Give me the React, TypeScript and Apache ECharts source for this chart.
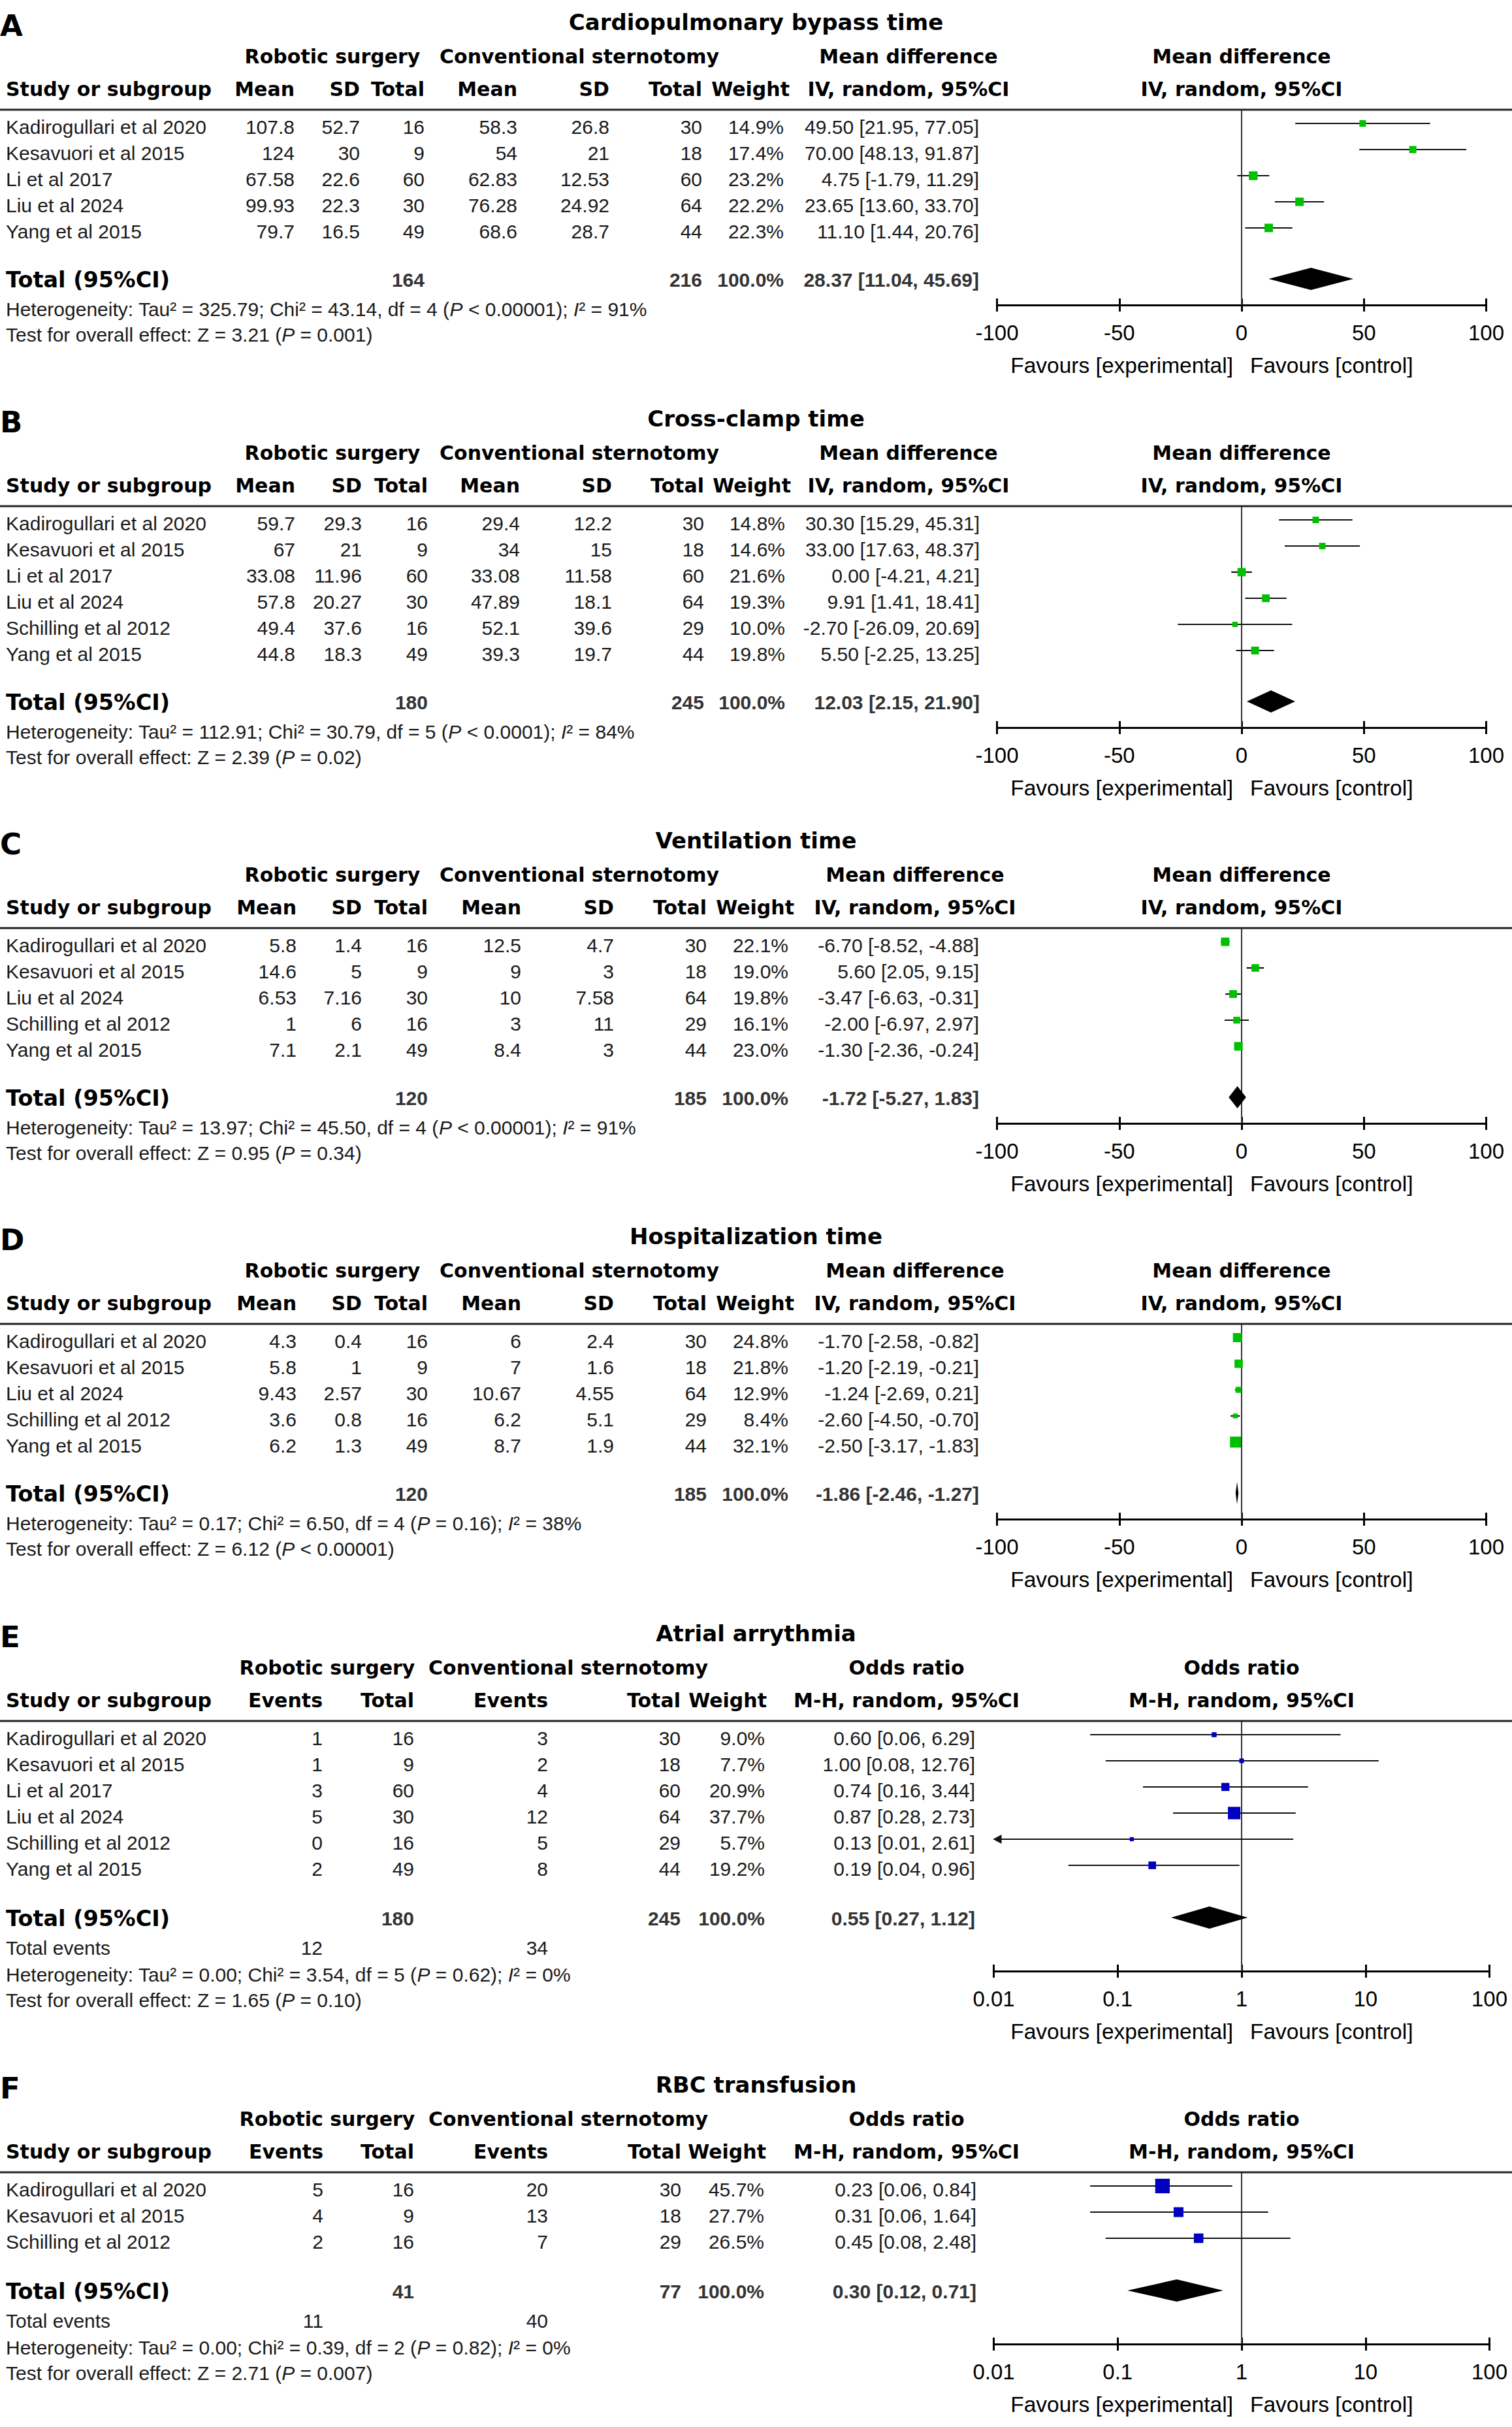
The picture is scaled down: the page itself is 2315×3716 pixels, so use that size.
import React, { useEffect, useRef } from "react";
import * as echarts from "echarts";

/* ================= DATA ================= */
const panelLetters = ["A", "B", "C", "D", "E", "F"];
const panelTitles = [
  "Cardiopulmonary bypass time",
  "Cross-clamp time",
  "Ventilation time",
  "Hospitalization time",
  "Atrial arrythmia",
  "RBC transfusion",
];
const hetTau2 = [325.79, 112.91, 13.97, 0.17, 0.0, 0.0];
const hetChi2 = [43.14, 30.79, 45.5, 6.5, 3.54, 0.39];
const hetDf = [4, 5, 4, 4, 5, 2];
const hetP = ["< 0.00001", "< 0.0001", "< 0.00001", "= 0.16", "= 0.62", "= 0.82"];
const hetI2 = [91, 84, 91, 38, 0, 0];
const overallZ = [3.21, 2.39, 0.95, 6.12, 1.65, 2.71];
const overallP = ["= 0.001", "= 0.02", "= 0.34", "< 0.00001", "= 0.10", "= 0.007"];

// A: Cardiopulmonary bypass time (mean difference)
const cpbStudy = ["Kadirogullari et al 2020", "Kesavuori et al 2015", "Li et al 2017", "Liu et al 2024", "Yang et al 2015"];
const cpbRoboMean = [107.8, 124, 67.58, 99.93, 79.7];
const cpbRoboSD = [52.7, 30, 22.6, 22.3, 16.5];
const cpbRoboN = [16, 9, 60, 30, 49];
const cpbConvMean = [58.3, 54, 62.83, 76.28, 68.6];
const cpbConvSD = [26.8, 21, 12.53, 24.92, 28.7];
const cpbConvN = [30, 18, 60, 64, 44];
const cpbWeight = [14.9, 17.4, 23.2, 22.2, 22.3];
const cpbMD = [49.5, 70.0, 4.75, 23.65, 11.1];
const cpbLo = [21.95, 48.13, -1.79, 13.6, 1.44];
const cpbHi = [77.05, 91.87, 11.29, 33.7, 20.76];
const cpbTotals = [164, 216];
const cpbPooled = [28.37, 11.04, 45.69];

// B: Cross-clamp time
const cctStudy = ["Kadirogullari et al 2020", "Kesavuori et al 2015", "Li et al 2017", "Liu et al 2024", "Schilling et al 2012", "Yang et al 2015"];
const cctRoboMean = [59.7, 67, 33.08, 57.8, 49.4, 44.8];
const cctRoboSD = [29.3, 21, 11.96, 20.27, 37.6, 18.3];
const cctRoboN = [16, 9, 60, 30, 16, 49];
const cctConvMean = [29.4, 34, 33.08, 47.89, 52.1, 39.3];
const cctConvSD = [12.2, 15, 11.58, 18.1, 39.6, 19.7];
const cctConvN = [30, 18, 60, 64, 29, 44];
const cctWeight = [14.8, 14.6, 21.6, 19.3, 10.0, 19.8];
const cctMD = [30.3, 33.0, 0.0, 9.91, -2.7, 5.5];
const cctLo = [15.29, 17.63, -4.21, 1.41, -26.09, -2.25];
const cctHi = [45.31, 48.37, 4.21, 18.41, 20.69, 13.25];
const cctTotals = [180, 245];
const cctPooled = [12.03, 2.15, 21.9];

// C: Ventilation time
const ventStudy = ["Kadirogullari et al 2020", "Kesavuori et al 2015", "Liu et al 2024", "Schilling et al 2012", "Yang et al 2015"];
const ventRoboMean = [5.8, 14.6, 6.53, 1, 7.1];
const ventRoboSD = [1.4, 5, 7.16, 6, 2.1];
const ventRoboN = [16, 9, 30, 16, 49];
const ventConvMean = [12.5, 9, 10, 3, 8.4];
const ventConvSD = [4.7, 3, 7.58, 11, 3];
const ventConvN = [30, 18, 64, 29, 44];
const ventWeight = [22.1, 19.0, 19.8, 16.1, 23.0];
const ventMD = [-6.7, 5.6, -3.47, -2.0, -1.3];
const ventLo = [-8.52, 2.05, -6.63, -6.97, -2.36];
const ventHi = [-4.88, 9.15, -0.31, 2.97, -0.24];
const ventTotals = [120, 185];
const ventPooled = [-1.72, -5.27, 1.83];

// D: Hospitalization time
const hospStudy = ["Kadirogullari et al 2020", "Kesavuori et al 2015", "Liu et al 2024", "Schilling et al 2012", "Yang et al 2015"];
const hospRoboMean = [4.3, 5.8, 9.43, 3.6, 6.2];
const hospRoboSD = [0.4, 1, 2.57, 0.8, 1.3];
const hospRoboN = [16, 9, 30, 16, 49];
const hospConvMean = [6, 7, 10.67, 6.2, 8.7];
const hospConvSD = [2.4, 1.6, 4.55, 5.1, 1.9];
const hospConvN = [30, 18, 64, 29, 44];
const hospWeight = [24.8, 21.8, 12.9, 8.4, 32.1];
const hospMD = [-1.7, -1.2, -1.24, -2.6, -2.5];
const hospLo = [-2.58, -2.19, -2.69, -4.5, -3.17];
const hospHi = [-0.82, -0.21, 0.21, -0.7, -1.83];
const hospTotals = [120, 185];
const hospPooled = [-1.86, -2.46, -1.27];

// E: Atrial arrythmia (odds ratio)
const afStudy = ["Kadirogullari et al 2020", "Kesavuori et al 2015", "Li et al 2017", "Liu et al 2024", "Schilling et al 2012", "Yang et al 2015"];
const afRoboEvents = [1, 1, 3, 5, 0, 2];
const afRoboN = [16, 9, 60, 30, 16, 49];
const afConvEvents = [3, 2, 4, 12, 5, 8];
const afConvN = [30, 18, 60, 64, 29, 44];
const afWeight = [9.0, 7.7, 20.9, 37.7, 5.7, 19.2];
const afOR = [0.6, 1.0, 0.74, 0.87, 0.13, 0.19];
const afLo = [0.06, 0.08, 0.16, 0.28, 0.01, 0.04];
const afHi = [6.29, 12.76, 3.44, 2.73, 2.61, 0.96];
const afTotals = [180, 245];
const afEvents = [12, 34];
const afPooled = [0.55, 0.27, 1.12];

// F: RBC transfusion
const rbcStudy = ["Kadirogullari et al 2020", "Kesavuori et al 2015", "Schilling et al 2012"];
const rbcRoboEvents = [5, 4, 2];
const rbcRoboN = [16, 9, 16];
const rbcConvEvents = [20, 13, 7];
const rbcConvN = [30, 18, 29];
const rbcWeight = [45.7, 27.7, 26.5];
const rbcOR = [0.23, 0.31, 0.45];
const rbcLo = [0.06, 0.06, 0.08];
const rbcHi = [0.84, 1.64, 2.48];
const rbcTotals = [41, 77];
const rbcEvents = [11, 40];
const rbcPooled = [0.3, 0.12, 0.71];

/* ================= LAYOUT ================= */
const PAGE_W = 2315;
const PAGE_H = 3716;
const ROW = 40;
const FIRST_ROW = 21;
const LINE_OFFSET = 134;
const panelTop = [34, 641, 1287, 1893, 2501, 3192];
const colsByPanel = [
  [451, 551, 650, 792, 933, 1075, 1200, 1499],
  [452, 554, 655, 796, 937, 1078, 1202, 1500],
  [454, 554, 655, 798, 940, 1082, 1207, 1499],
  [454, 554, 655, 798, 940, 1082, 1207, 1499],
  [494, 634, 839, 1042, 1171, 1493],
  [495, 634, 839, 1043, 1170, 1495],
];
const effCenter = [1391, 1391, 1401, 1401, 1388, 1388];
const FONT_DATA = "'Liberation Sans', Arial, sans-serif";
const FONT_HEAD = "'DejaVu Sans', Verdana, sans-serif";

type Panel = {
  kind: "md" | "or";
  studies: string[];
  cells: number[][];
  weight: number[];
  est: number[];
  lo: number[];
  hi: number[];
  totals: number[];
  pooled: number[];
  events?: number[];
};

const mdPanel = (studies, a, b, c, d, e, f, weight, est, lo, hi, totals, pooled): Panel => ({
  kind: "md",
  studies,
  cells: [a, b, c, d, e, f],
  weight,
  est,
  lo,
  hi,
  totals,
  pooled,
});
const orPanel = (studies, a, b, c, d, weight, est, lo, hi, totals, events, pooled): Panel => ({
  kind: "or",
  studies,
  cells: [a, b, c, d],
  weight,
  est,
  lo,
  hi,
  totals,
  pooled,
  events,
});

const panels: Panel[] = [
  mdPanel(cpbStudy, cpbRoboMean, cpbRoboSD, cpbRoboN, cpbConvMean, cpbConvSD, cpbConvN, cpbWeight, cpbMD, cpbLo, cpbHi, cpbTotals, cpbPooled),
  mdPanel(cctStudy, cctRoboMean, cctRoboSD, cctRoboN, cctConvMean, cctConvSD, cctConvN, cctWeight, cctMD, cctLo, cctHi, cctTotals, cctPooled),
  mdPanel(ventStudy, ventRoboMean, ventRoboSD, ventRoboN, ventConvMean, ventConvSD, ventConvN, ventWeight, ventMD, ventLo, ventHi, ventTotals, ventPooled),
  mdPanel(hospStudy, hospRoboMean, hospRoboSD, hospRoboN, hospConvMean, hospConvSD, hospConvN, hospWeight, hospMD, hospLo, hospHi, hospTotals, hospPooled),
  orPanel(afStudy, afRoboEvents, afRoboN, afConvEvents, afConvN, afWeight, afOR, afLo, afHi, afTotals, afEvents, afPooled),
  orPanel(rbcStudy, rbcRoboEvents, rbcRoboN, rbcConvEvents, rbcConvN, rbcWeight, rbcOR, rbcLo, rbcHi, rbcTotals, rbcEvents, rbcPooled),
];

/* ================= HELPERS ================= */
const txt = (x: number, y: number, text: string, o: any = {}) => ({
  type: "text",
  x,
  y,
  silent: true,
  z: 10,
  style: {
    text,
    fontSize: o.size || 30,
    fontFamily: o.family || FONT_DATA,
    fontWeight: o.weight || "normal",
    fontStyle: "normal",
    fill: o.color || "#1a1a1a",
    align: o.align || "left",
    verticalAlign: "middle",
    textAlign: o.align || "left",
    textVerticalAlign: "middle",
    rich: o.rich,
  },
});
const head = (x: number, y: number, text: string, align = "center", size = 30) =>
  txt(x, y, text, { family: FONT_HEAD, weight: "bold", color: "#000", align, size });
const ciText = (e: number, l: number, h: number) => `${e.toFixed(2)} [${l.toFixed(2)}, ${h.toFixed(2)}]`;

function buildOption() {
  const grids: any[] = [];
  const xAxes: any[] = [];
  const yAxes: any[] = [];
  const series: any[] = [];
  const els: any[] = [];

  panels.forEach((p, pi) => {
    const isMD = p.kind === "md";
    const top = panelTop[pi];
    const cols = colsByPanel[pi];
    const lineY = top + LINE_OFFSET;
    const n = p.studies.length;
    const yMin = -FIRST_ROW / ROW;
    const totalRow = n - 1 + (isMD ? 78 : 80) / ROW;
    const yMax = totalRow + (isMD ? 40 : 82) / ROW;
    const py = (v: number) => lineY + (v - yMin) * ROW;
    const gridLeft = isMD ? 1526.5 : 1521.5;
    const gridW = isMD ? 749 : 759;
    const cx = gridLeft + gridW / 2;
    const axisY = py(yMax);
    const axMin = isMD ? -100 : 0.01;
    const axMax = 100;
    const refX = isMD ? 0 : 1;

    grids.push({ left: gridLeft, top: lineY, width: gridW, height: axisY - lineY, containLabel: false });
    const baseAxis: any = isMD
      ? { type: "value", min: -100, max: 100, interval: 50 }
      : { type: "log", logBase: 10, min: 0.01, max: 100 };
    xAxes.push({
      ...baseAxis,
      gridIndex: pi,
      position: "bottom",
      axisLine: { show: true, onZero: false, lineStyle: { color: "#000", width: 3 } },
      axisTick: { show: true, length: 10, lineStyle: { color: "#000", width: 3 } },
      axisLabel: {
        show: true,
        margin: 26,
        fontSize: 33,
        fontFamily: FONT_DATA,
        color: "#000",
        formatter: (v: number) => String(Number(Number(v).toPrecision(4))),
      },
      splitLine: { show: false },
      minorTick: { show: false },
    });
    xAxes.push({
      ...baseAxis,
      gridIndex: pi,
      position: "bottom",
      axisLine: { show: false, onZero: false },
      axisTick: { show: true, inside: true, length: 10, lineStyle: { color: "#000", width: 3 } },
      axisLabel: { show: false },
      splitLine: { show: false },
      minorTick: { show: false },
    });
    yAxes.push({ type: "value", gridIndex: pi, inverse: true, min: yMin, max: yMax, show: false });
    const xi = pi * 2;

    // reference (no effect) line
    series.push({
      type: "custom",
      xAxisIndex: xi,
      yAxisIndex: pi,
      z: 1,
      silent: true,
      data: [[refX, yMin, yMax]],
      encode: { x: 0, y: [1, 2] },
      renderItem: (params: any, api: any) => {
        const a = api.coord([api.value(0), api.value(1)]);
        const b = api.coord([api.value(0), api.value(2)]);
        return { type: "line", shape: { x1: a[0], y1: a[1], x2: b[0], y2: b[1] }, style: { stroke: "#333", lineWidth: 2 } };
      },
    });
    // confidence intervals
    series.push({
      type: "custom",
      xAxisIndex: xi,
      yAxisIndex: pi,
      z: 2,
      silent: true,
      data: p.lo.map((l, i) => [l, p.hi[i], i]),
      encode: { x: [0, 1], y: 2 },
      renderItem: (params: any, api: any) => {
        const lo = api.value(0);
        const hi = api.value(1);
        const r = api.value(2);
        const a = api.coord([Math.max(lo, axMin), r]);
        const b = api.coord([Math.min(hi, axMax), r]);
        const children: any[] = [
          { type: "line", shape: { x1: a[0], y1: a[1], x2: b[0], y2: b[1] }, style: { stroke: "#111", lineWidth: 2.2 } },
        ];
        if (lo <= axMin) {
          children.push({
            type: "polygon",
            shape: { points: [[a[0] - 1, a[1]], [a[0] + 12, a[1] - 7], [a[0] + 12, a[1] + 7]] },
            style: { fill: "#111" },
          });
        }
        if (hi >= axMax) {
          children.push({
            type: "polygon",
            shape: { points: [[b[0] + 1, b[1]], [b[0] - 12, b[1] - 7], [b[0] - 12, b[1] + 7]] },
            style: { fill: "#111" },
          });
        }
        return { type: "group", children };
      },
    });
    // study squares
    series.push({
      type: "scatter",
      xAxisIndex: xi,
      yAxisIndex: pi,
      z: 3,
      silent: true,
      symbol: "rect",
      symbolSize: (v: number[]) => 4 + 0.4 * v[2],
      itemStyle: { color: isMD ? "#00c000" : "#0000c0", opacity: 1 },
      data: p.est.map((e, i) => [e, i, p.weight[i]]),
      encode: { x: 0, y: 1 },
    });
    // pooled diamond
    series.push({
      type: "custom",
      xAxisIndex: xi,
      yAxisIndex: pi,
      z: 3,
      silent: true,
      data: [[p.pooled[1], p.pooled[0], p.pooled[2], totalRow]],
      encode: { x: [0, 1, 2], y: 3 },
      renderItem: (params: any, api: any) => {
        const r = api.value(3);
        const a = api.coord([api.value(0), r]);
        const c = api.coord([api.value(1), r]);
        const b = api.coord([api.value(2), r]);
        return {
          type: "polygon",
          shape: { points: [[a[0], a[1]], [c[0], c[1] - 17], [b[0], b[1]], [c[0], c[1] + 17]] },
          style: { fill: "#000" },
        };
      },
    });

    /* ---- texts ---- */
    els.push(txt(0, top + 5.5, panelLetters[pi], { size: 45, family: FONT_HEAD, weight: "bold", color: "#000" }));
    els.push(head(PAGE_W / 2, top, panelTitles[pi], "center", 34));

    const h1 = top + 52;
    const h2 = top + 102;
    els.push(head(isMD ? 509 : 501, h1, "Robotic surgery"));
    els.push(head(isMD ? 887 : 870, h1, "Conventional sternotomy"));
    els.push(head(effCenter[pi], h1, isMD ? "Mean difference" : "Odds ratio"));
    els.push(head(cx, h1, isMD ? "Mean difference" : "Odds ratio"));

    els.push(head(9, h2, "Study or subgroup", "left"));
    const colHeads = isMD ? ["Mean", "SD", "Total", "Mean", "SD", "Total", "Weight"] : ["Events", "Total", "Events", "Total", "Weight"];
    colHeads.forEach((h, k) => {
      const isW = k === colHeads.length - 1;
      els.push(head(cols[k] + (isW ? (isMD ? 9 : 3) : 0), h2, h, "right"));
    });
    const method = isMD ? "IV, random, 95%CI" : "M-H, random, 95%CI";
    els.push(head(effCenter[pi], h2, method));
    els.push(head(cx, h2, method));

    // header rule
    els.push({
      type: "line",
      silent: true,
      z: 5,
      shape: { x1: 0, y1: lineY, x2: PAGE_W, y2: lineY },
      style: { stroke: "#222", lineWidth: 3 },
    });

    // study rows
    const nc = p.cells.length;
    p.studies.forEach((s, i) => {
      const y = py(i) + 5;
      els.push(txt(9, y, s));
      p.cells.forEach((col, k) => els.push(txt(cols[k], y, String(col[i]), { align: "right" })));
      els.push(txt(cols[nc], y, p.weight[i].toFixed(1) + "%", { align: "right" }));
      els.push(txt(cols[nc + 1], y, ciText(p.est[i], p.lo[i], p.hi[i]), { align: "right" }));
    });

    // total row
    const ty = py(totalRow) + 1;
    const bold = { align: "right", weight: "bold", color: "#333" };
    els.push(head(9, ty, "Total (95%CI)", "left", 33.5));
    els.push(txt(cols[isMD ? 2 : 1], ty, String(p.totals[0]), bold));
    els.push(txt(cols[isMD ? 5 : 3], ty, String(p.totals[1]), bold));
    els.push(txt(cols[nc], ty, "100.0%", bold));
    els.push(txt(cols[nc + 1], ty, ciText(p.pooled[0], p.pooled[1], p.pooled[2]), bold));

    const rich = { it: { fontStyle: "italic", fontSize: 30, fontFamily: FONT_DATA, fill: "#1a1a1a" } };
    let hy = ty + 45;
    let zy = ty + 84;
    if (!isMD && p.events) {
      const ey = ty + 45.5;
      els.push(txt(9, ey, "Total events"));
      els.push(txt(cols[0], ey, String(p.events[0]), { align: "right" }));
      els.push(txt(cols[2], ey, String(p.events[1]), { align: "right" }));
      hy = ty + 86.5;
      zy = ty + 125.5;
    }
    els.push(
      txt(
        9,
        hy,
        `Heterogeneity: Tau² = ${hetTau2[pi].toFixed(2)}; Chi² = ${hetChi2[pi].toFixed(2)}, df = ${hetDf[pi]} ({it|P} ${hetP[pi]}); {it|I}² = ${hetI2[pi]}%`,
        { rich }
      )
    );
    els.push(txt(9, zy, `Test for overall effect: Z = ${overallZ[pi].toFixed(2)} ({it|P} ${overallP[pi]})`, { rich }));

    // favours labels
    const fy = axisY + 92;
    els.push(txt(cx - 13, fy, "Favours [experimental]", { align: "right", size: 33.5, color: "#000" }));
    els.push(txt(cx + 13, fy, "Favours [control]", { align: "left", size: 33.5, color: "#000" }));
  });

  return {
    animation: false,
    backgroundColor: "#ffffff",
    grid: grids,
    xAxis: xAxes,
    yAxis: yAxes,
    series,
    graphic: { elements: els },
  };
}

export default function App() {
  const ref = useRef<HTMLDivElement>(null);
  useEffect(() => {
    document.body.style.margin = "0";
    const chart = echarts.init(ref.current as HTMLDivElement, null, { renderer: "svg", width: PAGE_W, height: PAGE_H });
    chart.setOption(buildOption() as any);
    return () => chart.dispose();
  }, []);
  return <div ref={ref} style={{ width: PAGE_W, height: PAGE_H, background: "#fff", display: "block" }} />;
}
